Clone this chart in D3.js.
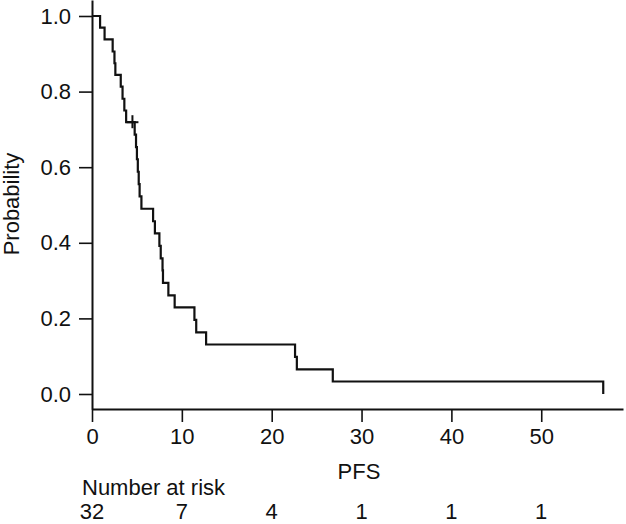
<!DOCTYPE html>
<html>
<head>
<meta charset="utf-8">
<script src="https://cdn.jsdelivr.net/npm/d3@7"></script>
<style>
  html, body { margin: 0; padding: 0; background: #fff; }
  svg { display: block; }
  text { font-family: Arial, "Liberation Sans", Helvetica, sans-serif; fill: #111; }
</style>
</head>
<body>
<svg id="chart" width="626" height="524"></svg>
<script>
// Kaplan-Meier step data (time in months, survival probability)
const stepTimes = [0, 0.9, 1.4, 2.3, 2.5, 2.6, 3.2, 3.4, 3.6, 3.8,
  4.75, 4.9, 5.0, 5.1, 5.2, 5.3, 5.5, 6.8, 7.0, 7.5, 7.65, 7.85, 7.9,
  8.5, 9.2, 11.4, 11.6, 12.7, 22.6, 22.8, 26.8, 56.9];
const survival = [1.0, 0.969, 0.938, 0.906, 0.875, 0.844, 0.813, 0.781, 0.75, 0.719,
  0.686, 0.653, 0.621, 0.588, 0.555, 0.523, 0.490, 0.457, 0.425, 0.392, 0.359, 0.327, 0.294,
  0.261, 0.229, 0.196, 0.163, 0.131, 0.098, 0.065, 0.033, 0.0];
const censorTimes = [4.5];
const censorSurv = [0.719];

const xTicks = [0, 10, 20, 30, 40, 50];
const yTicks = [0.0, 0.2, 0.4, 0.6, 0.8, 1.0];
const atRiskTimes = [0, 10, 20, 30, 40, 50];
const atRisk = [32, 7, 4, 1, 1, 1];

const svg = d3.select("#chart");
const FS = 22;

const x = d3.scaleLinear().domain([0, 59.1]).range([92, 623]);
const y = d3.scaleLinear().domain([-0.0397, 1.0423]).range([409, 0]);

// Axes
const xAxis = d3.axisBottom(x).tickValues(xTicks).tickFormat(d3.format("d"))
  .tickSize(13).tickSizeOuter(0).tickPadding(6);
const yAxis = d3.axisLeft(y).tickValues(yTicks).tickFormat(d3.format(".1f"))
  .tickSize(13).tickSizeOuter(0).tickPadding(8);

const gx = svg.append("g").attr("transform", "translate(0,409)").call(xAxis);
const gy = svg.append("g").attr("transform", "translate(92,0)").call(yAxis);
[gx, gy].forEach(g => {
  g.select(".domain").attr("stroke", "#111").attr("stroke-width", 2);
  g.selectAll(".tick line").attr("stroke", "#111").attr("stroke-width", 1.6);
  g.selectAll(".tick text").attr("font-size", FS).attr("fill", "#111")
    .attr("font-family", "Arial, 'Liberation Sans', Helvetica, sans-serif");
});

// KM curve
const pts = stepTimes.map((t, i) => [t, survival[i]]);
const line = d3.line().x(d => x(d[0])).y(d => y(d[1])).curve(d3.curveStepAfter);
svg.append("path").datum(pts).attr("d", line)
  .attr("fill", "none").attr("stroke", "#111").attr("stroke-width", 2.2);

// Censor marks
censorTimes.forEach((t, i) => {
  const cx = x(t), cy = y(censorSurv[i]);
  svg.append("line").attr("x1", cx - 6).attr("x2", cx + 6).attr("y1", cy).attr("y2", cy)
    .attr("stroke", "#111").attr("stroke-width", 2);
  svg.append("line").attr("x1", cx).attr("x2", cx).attr("y1", cy - 7).attr("y2", cy + 6)
    .attr("stroke", "#111").attr("stroke-width", 2);
});

// Axis titles
svg.append("text").attr("x", 359).attr("y", 479).attr("text-anchor", "middle")
  .attr("font-size", FS).text("PFS");
svg.append("text").attr("transform", "translate(19,204) rotate(-90)")
  .attr("text-anchor", "middle").attr("font-size", FS).text("Probability");

// Number at risk
svg.append("text").attr("x", 82).attr("y", 495).attr("font-size", FS).text("Number at risk");
svg.append("g").selectAll("text").data(atRiskTimes).join("text")
  .attr("x", d => x(d)).attr("y", 519).attr("text-anchor", "middle")
  .attr("font-size", FS).text((d, i) => atRisk[i]);
</script>
</body>
</html>
